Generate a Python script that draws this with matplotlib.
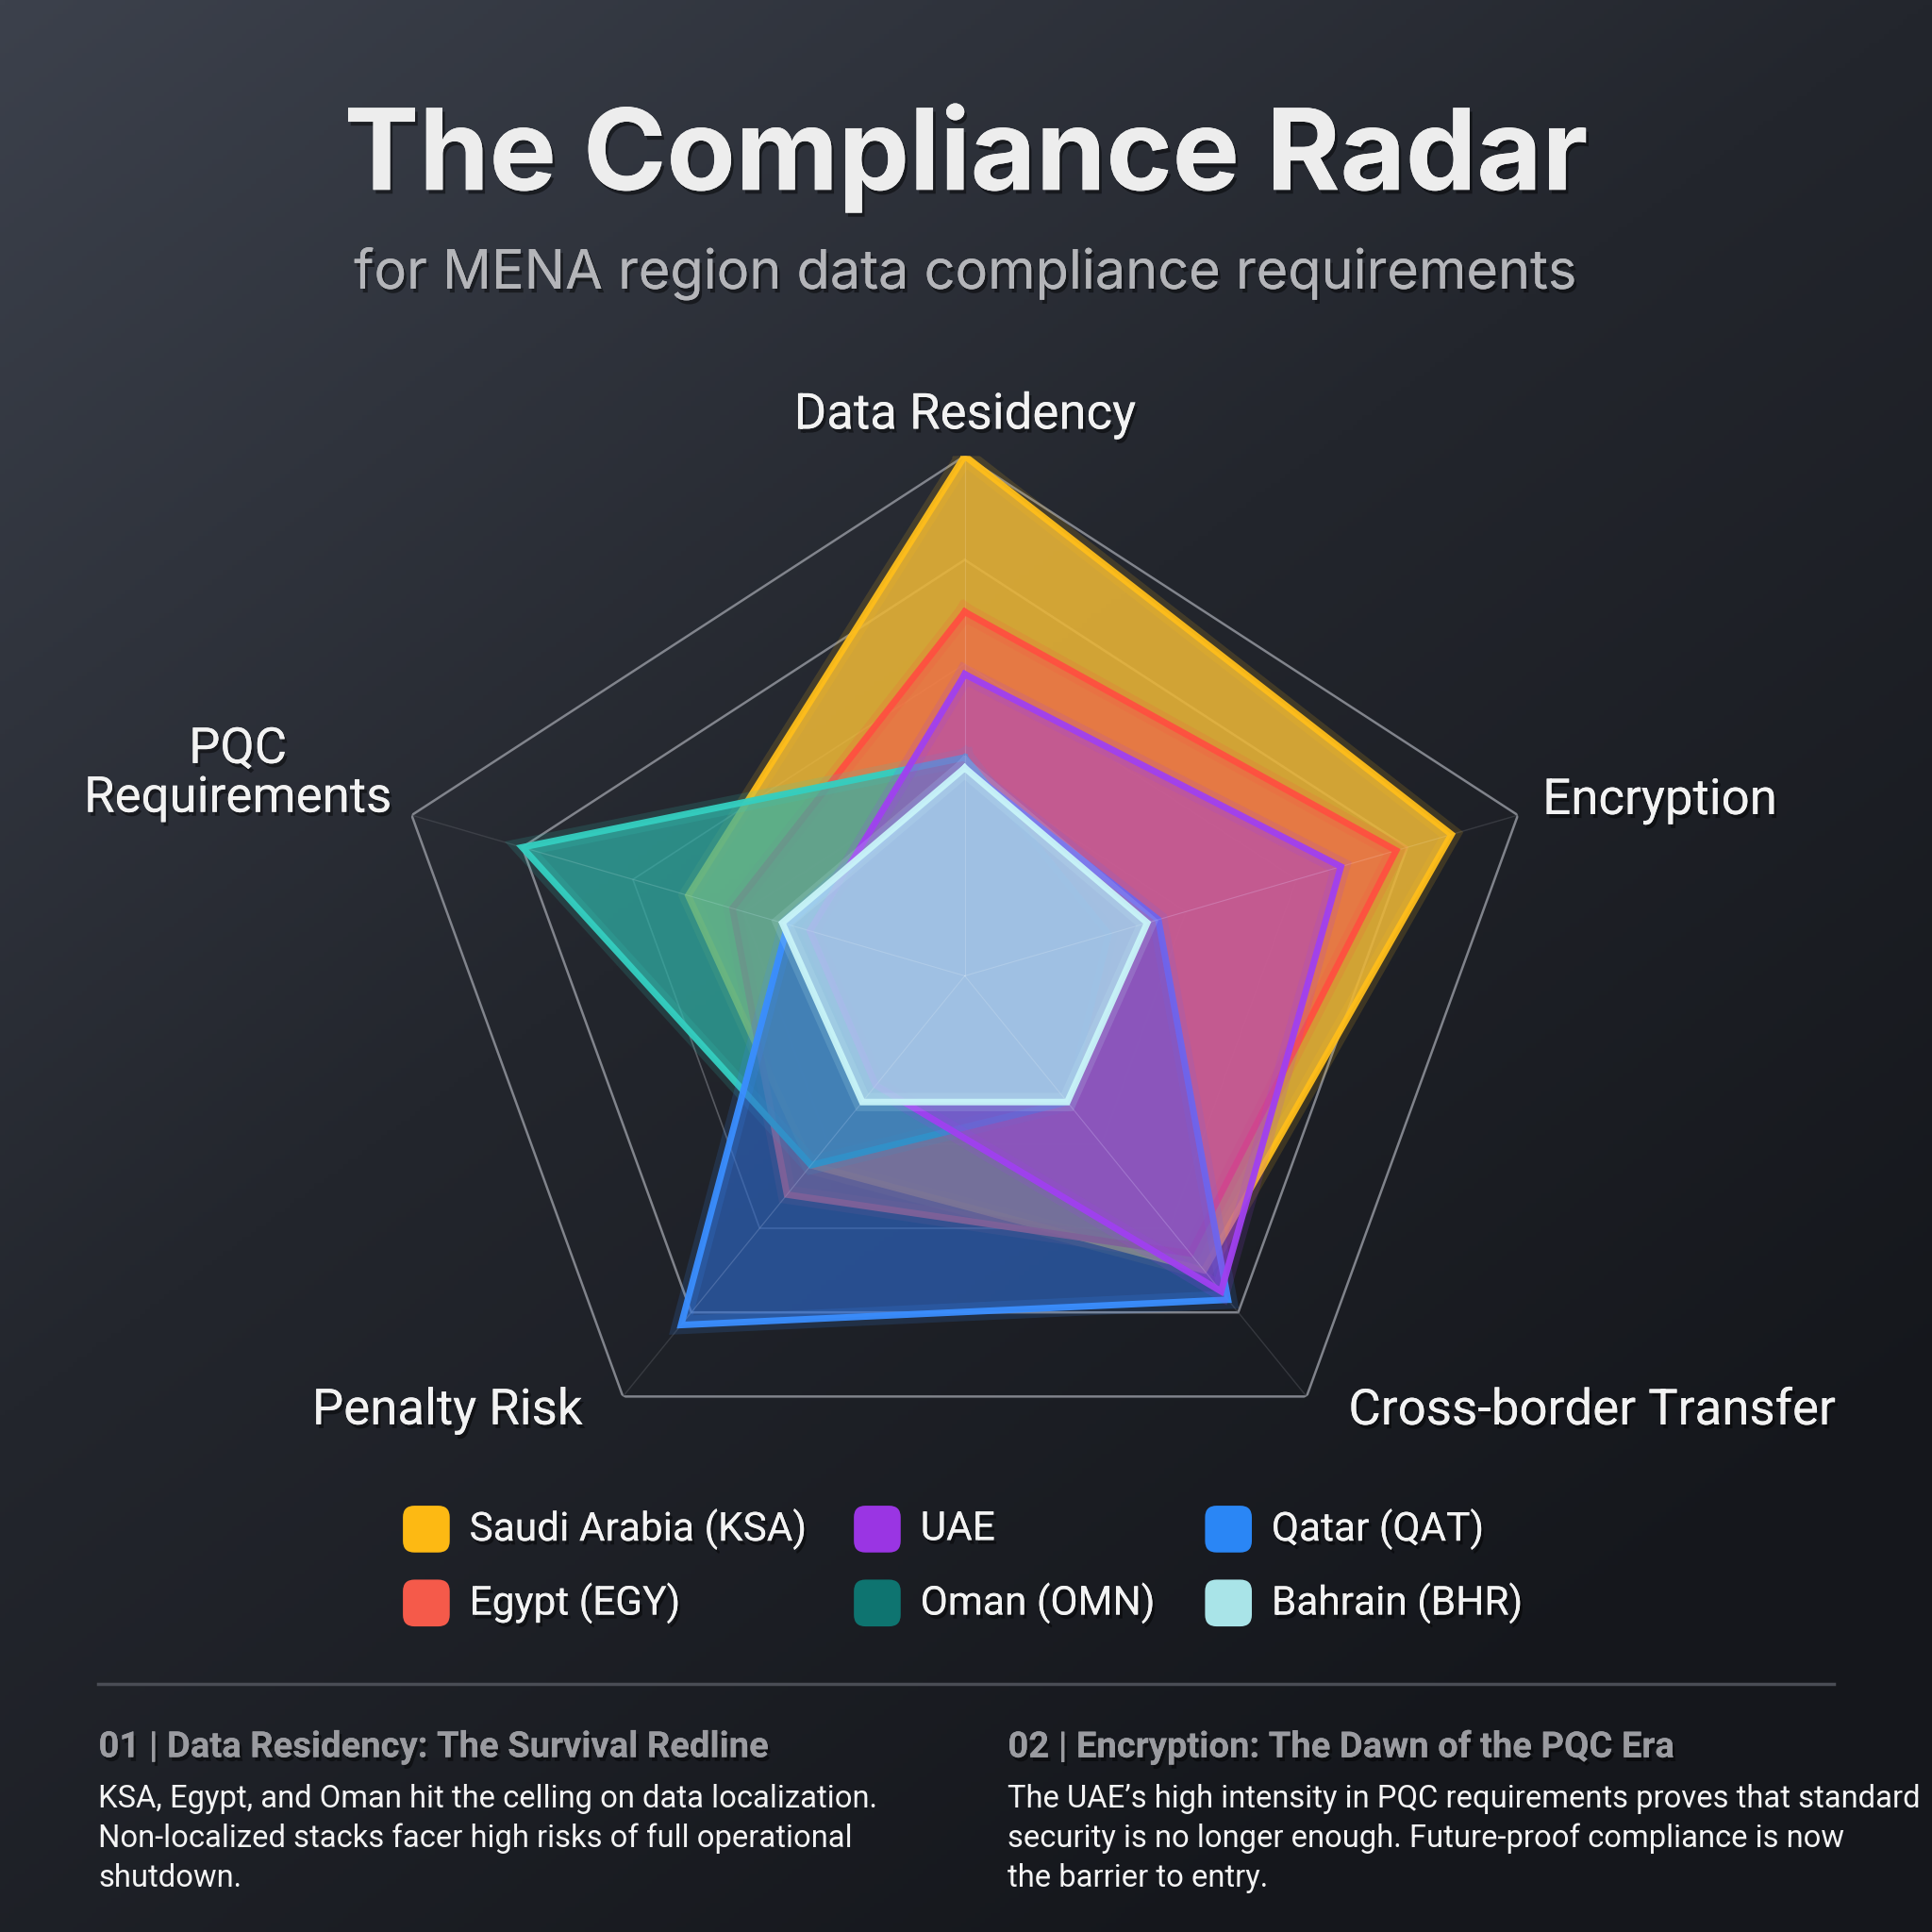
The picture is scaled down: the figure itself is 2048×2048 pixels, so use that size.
import numpy as np
import matplotlib
matplotlib.use("Agg")
import matplotlib.pyplot as plt
from matplotlib.patches import FancyBboxPatch
import matplotlib.patheffects as pe

# ---------------- data ----------------
categories = ["Data Residency", "Encryption", "Cross-border Transfer", "Penalty Risk", "PQC Requirements"]
countries = ["Saudi Arabia (KSA)", "Egypt (EGY)", "UAE", "Oman (OMN)", "Qatar (QAT)", "Bahrain (BHR)"]
ksa = [100, 88, 70, 45, 50]
egy = [70, 78, 66, 52, 42]
uae = [58, 68, 75, 26, 28]
omn = [42, 26, 30, 45, 80]
qat = [40, 35, 77, 83, 32]
bhr = [40, 33, 30, 30, 33]
series = [ksa, egy, uae, omn, qat, bhr]
draw_order = [0, 1, 3, 4, 2, 5]
grid_levels = [20, 40, 60, 80, 100]

legend_colors = ["#FDB913", "#F55A4A", "#9A35E3", "#0E7470", "#2A86F5", "#A9E4E8"]
edge_colors = ["#FFBE1A", "#FF5040", "#A040F0", "#34CFC0", "#3A8EFF", "#C8F4F8"]
fill_colors = ["#EBB637", "#F2604E", "#A23CDC", "#30B2A8", "#2F6CD0", "#A8D2E8"]
fill_alpha = [0.88, 0.62, 0.50, 0.72, 0.62, 0.85]

# ---------------- figure ----------------
W = 1568.0
fig = plt.figure(figsize=(20.48, 20.48), dpi=100)

# background gradient
bg = fig.add_axes([0, 0, 1, 1])
yy, xx = np.mgrid[0:1:400j, 0:1:400j]
t = np.clip(0.55 * xx + 0.75 * yy, 0, 1.1) / 1.1
c0 = np.array([0x3c, 0x41, 0x4c]) / 255
c1 = np.array([0x23, 0x26, 0x2d]) / 255
c2 = np.array([0x15, 0x17, 0x1c]) / 255
img = np.where(t[..., None] < 0.5,
               c0 + (c1 - c0) * (t[..., None] / 0.5),
               c1 + (c2 - c1) * ((t[..., None] - 0.5) / 0.5))
bg.imshow(img, extent=[0, 1, 0, 1], aspect="auto", origin="upper")
bg.set_xlim(0, 1); bg.set_ylim(0, 1)
bg.axis("off")

def fy(y):
    return 1 - y / W

def fx(x):
    return x / W

shadow = [pe.withSimplePatchShadow(offset=(2, -3), shadow_rgbFace="black", alpha=0.45), pe.Normal()]

# titles
fig.text(0.5, fy(128), "The Compliance Radar", ha="center", va="center",
         fontsize=86, fontweight="bold", family=["Inter", "DejaVu Sans"], color="#EDEDED",
         path_effects=shadow)
fig.text(0.5, fy(222), "for MENA region data compliance requirements", ha="center", va="center",
         fontsize=41.5, family=["Inter", "DejaVu Sans"], color="#B4B5B9", path_effects=shadow)

# ---------------- radar ----------------
cx, cy, rx, ry = 783, 792, 472, 422
ax = fig.add_axes([fx(cx - rx), fy(cy + ry), 2 * rx / W, 2 * ry / W], projection="polar")
ax.set_aspect("auto")
ax.patch.set_alpha(0)
ax.set_theta_offset(np.pi / 2)
ax.set_theta_direction(-1)
n = len(categories)
angles = np.linspace(0, 2 * np.pi, n, endpoint=False)
ang_c = np.concatenate([angles, angles[:1]])
ax.set_ylim(0, 100)
ax.set_xticks([]); ax.set_yticks([])
ax.grid(False)
ax.spines["polar"].set_visible(False)

# grid pentagons
for lv in grid_levels:
    ax.plot(ang_c, [lv] * (n + 1), color="#8C8F97" if lv >= 80 else "#5E6168",
            lw=1.8 if lv >= 80 else 1.2, zorder=1, alpha=0.9)
for a in angles:
    ax.plot([a, a], [0, 100], color="#5E6168", lw=1.0, alpha=0.4, zorder=1)

for rank, i in enumerate(draw_order):
    vals = series[i]
    v = np.concatenate([vals, vals[:1]])
    z = 3 + rank * 2
    ax.fill(ang_c, v, color=fill_colors[i], alpha=fill_alpha[i], zorder=z, lw=0)
    ax.plot(ang_c, v, color=edge_colors[i], lw=14, alpha=0.15, zorder=z + 0.5,
            solid_joinstyle="miter")
    ax.plot(ang_c, v, color=edge_colors[i], lw=5, alpha=0.95, zorder=z + 1,
            solid_joinstyle="miter")
    # faint inner grid inside each shape
    for a, r in zip(angles, vals):
        ax.plot([a, a], [0, r], color="white", lw=0.8, alpha=0.12, zorder=z + 0.2)

# axis labels
lab_kw = dict(fontsize=38, color="#F2F2F2", family=["Roboto", "DejaVu Sans"], path_effects=shadow)
fig.text(fx(783), fy(337), categories[0], ha="center", va="center", **lab_kw)
fig.text(fx(1252), fy(650), categories[1], ha="left", va="center", **lab_kw)
fig.text(fx(1292), fy(1145), categories[2], ha="center", va="center", **lab_kw)
fig.text(fx(363), fy(1145), categories[3], ha="center", va="center", **lab_kw)
fig.text(fx(193), fy(628), "PQC\nRequirements", ha="center", va="center",
         linespacing=1.02, **lab_kw)

# ---------------- legend ----------------
col_sq = [327, 693, 978]
col_tx = [381, 747, 1032]
row_y = [1241, 1301]
sq = 38
order = [(0, 0), (1, 0), (0, 1), (1, 1), (0, 2), (1, 2)]  # (row, col) for each country
for i, name in enumerate(countries):
    r, c = order[i]
    x0 = col_sq[c]; y0 = row_y[r]
    fig.patches.append(FancyBboxPatch((fx(x0), fy(y0 + sq / 2)), fx(sq), fx(sq),
                                      boxstyle="round,pad=0,rounding_size=0.006",
                                      transform=fig.transFigure, facecolor=legend_colors[i],
                                      edgecolor="none", zorder=5))
    fig.text(fx(col_tx[c]), fy(y0), name, ha="left", va="center", fontsize=30.5,
             color="#F2F2F2", family=["Roboto", "DejaVu Sans"], path_effects=shadow)

# separator
fig.add_artist(plt.Line2D([fx(80), fx(1488)], [fy(1367), fy(1367)], transform=fig.transFigure,
                          color="#4A4D55", lw=2.5))

# ---------------- notes ----------------
head_kw = dict(fontsize=27.5, fontweight="bold", color="#9A9BA0", family=["Roboto", "DejaVu Sans"],
               ha="left", va="center", path_effects=shadow)
body_kw = dict(fontsize=23.6, color="#F4F4F4", family=["Roboto", "DejaVu Sans"],
               ha="left", va="center")
fig.text(fx(80), fy(1418), "01 | Data Residency: The Survival Redline", **head_kw)
fig.text(fx(818), fy(1418), "02 | Encryption: The Dawn of the PQC Era", **head_kw)
note1 = ["KSA, Egypt, and Oman hit the celling on data localization.",
         "Non-localized stacks facer high risks of full operational",
         "shutdown."]
note2 = ["The UAE\u2019s high intensity in PQC requirements proves that standard",
         "security is no longer enough. Future-proof compliance is now",
         "the barrier to entry."]
for k, (a, b) in enumerate(zip(note1, note2)):
    fig.text(fx(80), fy(1460 + 32 * k), a, **body_kw)
    fig.text(fx(818), fy(1460 + 32 * k), b, **body_kw)

fig.savefig("out.png", dpi=100)
